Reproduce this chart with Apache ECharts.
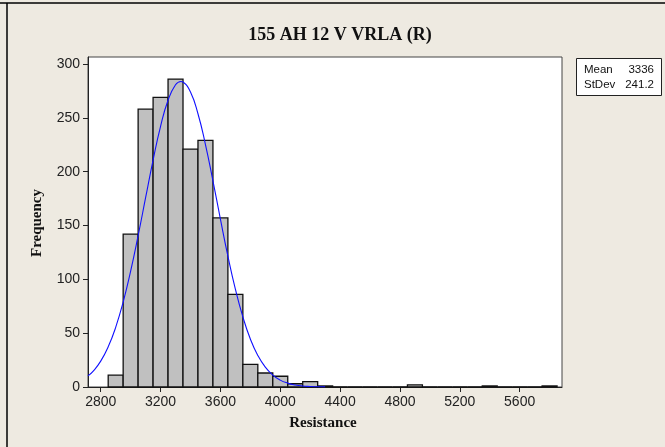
<!DOCTYPE html>
<html>
<head>
<meta charset="utf-8">
<script src="https://cdn.jsdelivr.net/npm/echarts@6/dist/echarts.min.js"></script>
<style>
html,body{margin:0;padding:0;background:#EEEAE1;}
#chart{width:665px;height:447px;}
</style>
</head>
<body>
<div id="chart"></div>
<script>
// Histogram bins (centers, width 100) and their counts
const binCenters = [2900,3000,3100,3200,3300,3400,3500,3600,3700,3800,3900,4000,4100,4200,4300,4400,4500,4600,4700,4800,4900,5000,5100,5200,5300,5400,5500,5600,5700,5800];
const counts     = [11,  142, 258, 269, 286, 221, 229, 157, 86,  21,  13,  10,  3,   5,   1,   0,   0,   0,   0,   0,   2,   0,   0,   0,   0,   1,   0,   0,   0,   1];
const binWidth = 100;
// Fitted normal curve
const curveX = [2715,2750,2800,2850,2900,2950,3000,3050,3100,3150,3200,3250,3300,3336,3350,3400,3450,3500,3550,3600,3650,3700,3750,3800,3850,3900,3950,4000,4050,4100,4150,4200,4250,4300];
const curveY = [10.3,14.8,24.0,37.3,55.4,78.9,107.6,140.5,175.8,210.8,242.1,266.3,280.7,283.8,283.3,274.0,253.8,225.2,191.5,155.9,121.6,90.9,65.1,44.6,29.3,18.4,11.1,6.4,3.6,1.9,0.95,0.5,0.2,0.1];
const yTicks = [0,50,100,150,200,250,300];
const xTicks = [2800,3200,3600,4000,4400,4800,5200,5600];
const title = '155 AH 12 V VRLA (R)';
const xName = 'Resistance';
const yName = 'Frequency';
const statLabels = ['Mean','StDev'];
const statValues = ['3336','241.2'];

const barData = binCenters.map((c,i)=>[c-binWidth/2, c+binWidth/2, counts[i]]);
const lineData = curveX.map((x,i)=>[x, curveY[i]]);

const chart = echarts.init(document.getElementById('chart'), null, {renderer:'canvas'});
const sansFont = '"Liberation Sans", Arial, sans-serif';
const serifFont = '"Liberation Serif", "Times New Roman", serif';

chart.setOption({
  backgroundColor:'#EEEAE1',
  animation:false,
  grid:{left:88, right:103, top:57, bottom:60, show:true, backgroundColor:'#ffffff', borderColor:'#444', borderWidth:1},
  xAxis:{
    type:'value', min:2715, max:5883,
    splitLine:{show:false},
    axisLine:{show:true, onZero:false, lineStyle:{color:'#222', width:1}},
    axisTick:{show:true, length:5, customValues:xTicks, lineStyle:{color:'#222'}},
    axisLabel:{customValues:xTicks, formatter:function(v){return String(v);}, color:'#222', fontFamily:sansFont, fontSize:14, margin:8}
  },
  yAxis:{
    type:'value', min:0, max:306.5,
    splitLine:{show:false},
    axisLine:{show:true, lineStyle:{color:'#222', width:1}},
    axisTick:{show:true, length:5, customValues:yTicks, lineStyle:{color:'#222'}},
    axisLabel:{customValues:yTicks, formatter:function(v){return String(v);}, color:'#222', fontFamily:sansFont, fontSize:14, margin:8}
  },
  series:[
    {
      type:'custom',
      data:barData,
      encode:{x:[0,1], y:2},
      renderItem:function(params, api){
        const p0 = api.coord([api.value(0), api.value(2)]);
        const p1 = api.coord([api.value(1), 0]);
        return {
          type:'rect',
          shape:{x:p0[0], y:p0[1], width:p1[0]-p0[0], height:p1[1]-p0[1]},
          style:{fill:'#C0C0C0', stroke:'#111', lineWidth:1.3}
        };
      },
      z:2
    },
    {
      type:'line',
      data:lineData,
      smooth:true,
      showSymbol:false,
      lineStyle:{color:'#1010FF', width:1.1},
      z:3
    }
  ],
  graphic:[
    {type:'line', shape:{x1:0,y1:3,x2:665,y2:3}, style:{stroke:'#000', lineWidth:1.5}},
    {type:'line', shape:{x1:7,y1:3,x2:7,y2:447}, style:{stroke:'#000', lineWidth:1.5}},
    {type:'text', x:340, y:35, style:{text:title, font:'bold 18px '+serifFont, fill:'#111', align:'center', verticalAlign:'middle'}},
    {type:'text', x:323, y:423, style:{text:xName, font:'bold 15px '+serifFont, fill:'#111', align:'center', verticalAlign:'middle'}},
    {type:'text', x:37, y:223, rotation:Math.PI/2, style:{text:yName, font:'bold 15px '+serifFont, fill:'#111', align:'center', verticalAlign:'middle'}},
    {type:'rect', shape:{x:576.5, y:58.5, width:85, height:37}, style:{fill:'#ffffff', stroke:'#222', lineWidth:1}},
    {type:'text', x:584, y:70, style:{text:statLabels[0], font:'11.5px '+sansFont, fill:'#111', align:'left', verticalAlign:'middle'}},
    {type:'text', x:654, y:70, style:{text:statValues[0], font:'11.5px '+sansFont, fill:'#111', align:'right', verticalAlign:'middle'}},
    {type:'text', x:584, y:85, style:{text:statLabels[1], font:'11.5px '+sansFont, fill:'#111', align:'left', verticalAlign:'middle'}},
    {type:'text', x:654, y:85, style:{text:statValues[1], font:'11.5px '+sansFont, fill:'#111', align:'right', verticalAlign:'middle'}}
  ]
});
</script>
</body>
</html>
